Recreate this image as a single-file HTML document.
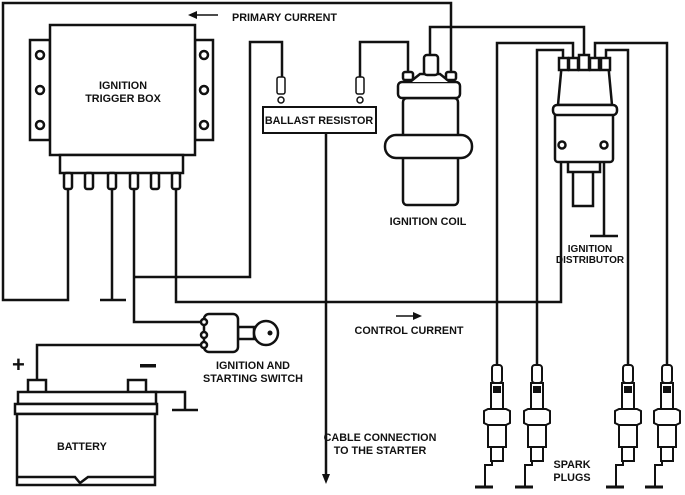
<!DOCTYPE html>
<html><head><style>
html,body{margin:0;padding:0;background:#fff}
svg{display:block}
text{font-family:"Liberation Sans",sans-serif;font-weight:bold;font-size:10.8px;fill:#111}
</style></head><body>
<svg width="685" height="495" viewBox="0 0 685 495" xmlns="http://www.w3.org/2000/svg">
<defs>
<g id="plug" fill="#fff" stroke="#111" stroke-width="2">
  <rect x="-5" y="0" width="10" height="18" rx="3"/>
  <rect x="-6" y="18" width="12" height="27"/>
  <rect x="-3" y="22" width="6" height="5" fill="#111"/>
  <path d="M-13,46 L-9,44 L9,44 L13,46 L13,58 L9,60 L-9,60 L-13,58 Z"/>
  <rect x="-9" y="60" width="18" height="22"/>
  <rect x="-6" y="82" width="12" height="14"/>
  <path d="M-5,96 L-5,100 L-12,100 L-12,122" fill="none"/>
  <line x1="-22" y1="122" x2="-4" y2="122" stroke-width="3"/>
</g>
</defs>
<g fill="none" stroke="#111" stroke-width="2.5">
  <polyline points="451,75 451,3 3,3 3,300 68,300 68,190"/>
  <line x1="112" y1="190" x2="112" y2="300"/>
  <line x1="100" y1="300" x2="126" y2="300"/>
  <polyline points="134,190 134,322 202,322"/>
  <polyline points="134,277 250,277 250,42 282,42 282,77"/>
  <polyline points="176,190 176,302 561,302 561,145"/>
  <polyline points="360,77 360,42 408,42 408,75"/>
  <polyline points="430,58 430,27 584,27 584,55"/>
  <polyline points="497,365 497,43 573,43 573,60"/>
  <polyline points="537,365 537,50 563,50 563,60"/>
  <polyline points="628,365 628,50 606,50 606,60"/>
  <polyline points="667,365 667,43 595,43 595,60"/>
  <line x1="604" y1="145" x2="604" y2="236"/>
  <line x1="590" y1="236" x2="618" y2="236"/>
  <polyline points="202,345 37,345 37,382"/>
  <polyline points="150,392 185,392 185,410"/>
  <line x1="172" y1="410" x2="198" y2="410"/>
</g>
<line x1="326" y1="133" x2="326" y2="476" stroke="#111" stroke-width="2.5"/>
<path d="M322,474 L330,474 L326,484 Z" fill="#111"/>
<g fill="#fff" stroke="#111" stroke-width="2.5">
  <rect x="30" y="40" width="20" height="100"/>
  <rect x="195" y="40" width="18" height="100"/>
  <rect x="50" y="25" width="145" height="130"/>
  <rect x="60" y="155" width="123" height="18"/>
  <circle cx="40" cy="55" r="4"/><circle cx="40" cy="90" r="4"/><circle cx="40" cy="125" r="4"/>
  <circle cx="204" cy="55" r="4"/><circle cx="204" cy="90" r="4"/><circle cx="204" cy="125" r="4"/>
  <rect x="64" y="173" width="8" height="16" rx="2"/>
  <rect x="85" y="173" width="8" height="16" rx="2"/>
  <rect x="108" y="173" width="8" height="16" rx="2"/>
  <rect x="130" y="173" width="8" height="16" rx="2"/>
  <rect x="151" y="173" width="8" height="16" rx="2"/>
  <rect x="172" y="173" width="8" height="16" rx="2"/>
</g>
<g fill="#fff" stroke="#111" stroke-width="1.5">
  <rect x="277" y="77" width="8" height="17" rx="2"/>
  <circle cx="281" cy="100" r="3"/>
  <rect x="356" y="77" width="8" height="17" rx="2"/>
  <circle cx="360" cy="100" r="3"/>
</g>
<rect x="263" y="107" width="113" height="26" fill="#fff" stroke="#111" stroke-width="2"/>
<g fill="#fff" stroke="#111" stroke-width="2.5">
  <rect x="403" y="98" width="55" height="107" rx="4"/>
  <rect x="385" y="135" width="87" height="23" rx="11"/>
  <rect x="398" y="82" width="62" height="16" rx="4"/>
  <path d="M410,82 L420,74 L440,74 L450,82"/>
  <rect x="424" y="55" width="14" height="20" rx="3"/>
  <rect x="403" y="72" width="10" height="8" rx="2"/>
  <rect x="446" y="72" width="10" height="8" rx="2"/>
</g>
<g fill="#fff" stroke="#111" stroke-width="2.5">
  <rect x="573" y="168" width="20" height="38"/>
  <rect x="568" y="160" width="32" height="12"/>
  <rect x="555" y="112" width="58" height="50" rx="3"/>
  <path d="M558,105 L562,62 L608,62 L612,105 Z"/>
  <rect x="553" y="105" width="64" height="10" rx="4"/>
  <rect x="559" y="58" width="9" height="12"/>
  <rect x="569" y="58" width="9" height="12"/>
  <rect x="579" y="55" width="10" height="15"/>
  <rect x="590" y="58" width="9" height="12"/>
  <rect x="601" y="58" width="9" height="12"/>
  <circle cx="562" cy="145" r="3.5"/>
  <circle cx="604" cy="145" r="3.5"/>
</g>
<g fill="#fff" stroke="#111" stroke-width="2.5">
  <rect x="238" y="327" width="16" height="12"/>
  <circle cx="266" cy="333" r="12"/>
  <rect x="204" y="314" width="34" height="38" rx="5"/>
  <circle cx="204" cy="322" r="3"/><circle cx="204" cy="335" r="3"/><circle cx="204" cy="345" r="3"/>
</g>
<circle cx="270" cy="333" r="2.5" fill="#111"/>
<g fill="#fff" stroke="#111" stroke-width="2.5">
  <rect x="28" y="380" width="18" height="15"/>
  <rect x="128" y="380" width="18" height="15"/>
  <rect x="18" y="392" width="138" height="12"/>
  <rect x="15" y="404" width="142" height="10"/>
  <path d="M17,414 L155,414 L155,485 L17,485 Z"/>
  <path d="M17,477 L75,477 L80,483 L88,477 L155,477" fill="none"/>
</g>
<use href="#plug" x="497" y="365"/>
<use href="#plug" x="537" y="365"/>
<use href="#plug" x="628" y="365"/>
<use href="#plug" x="667" y="365"/>
<line x1="196" y1="15" x2="218" y2="15" stroke="#111" stroke-width="1.5"/>
<path d="M188,15 L197,11 L197,19 Z" fill="#111"/>
<line x1="396" y1="316" x2="414" y2="316" stroke="#111" stroke-width="1.5"/>
<path d="M422,316 L413,312 L413,320 Z" fill="#111"/>
<text x="232" y="21">PRIMARY CURRENT</text>
<text x="123" y="89" text-anchor="middle">IGNITION</text>
<text x="123" y="102" text-anchor="middle">TRIGGER BOX</text>
<text x="319" y="124" text-anchor="middle">BALLAST RESISTOR</text>
<text x="428" y="225" text-anchor="middle">IGNITION COIL</text>
<text x="590" y="252" text-anchor="middle" style="font-size:10px">IGNITION</text>
<text x="590" y="263" text-anchor="middle" style="font-size:10px">DISTRIBUTOR</text>
<text x="409" y="334" text-anchor="middle">CONTROL CURRENT</text>
<text x="253" y="369" text-anchor="middle">IGNITION AND</text>
<text x="253" y="382" text-anchor="middle">STARTING SWITCH</text>
<text x="57" y="450">BATTERY</text>
<text x="380" y="441" text-anchor="middle">CABLE CONNECTION</text>
<text x="380" y="454" text-anchor="middle">TO THE STARTER</text>
<text x="572" y="468" text-anchor="middle">SPARK</text>
<text x="572" y="481" text-anchor="middle">PLUGS</text>
<text x="12" y="372" style="font-size:22px">+</text>
<rect x="140" y="364" width="16" height="3.5" fill="#111"/>
</svg>
</body></html>
